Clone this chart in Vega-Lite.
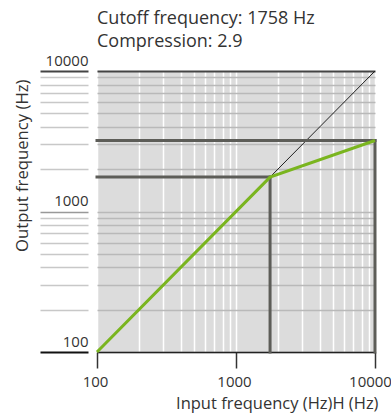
{
  "$schema": "https://vega.github.io/schema/vega-lite/v6.json",
  "width": 278,
  "height": 281,
  "autosize": "none",
  "padding": {"left": 97, "top": 71, "right": 16, "bottom": 64},
  "background": "white",
  "title": {
    "text": ["Cutoff frequency: 1758 Hz", "Compression: 2.9"],
    "anchor": "start",
    "frame": "group",
    "font": "Open Sans",
    "fontSize": 18,
    "fontWeight": "normal",
    "color": "#333333",
    "lineHeight": 23,
    "offset": -12,
    "baseline": "alphabetic"
  },
  "config": {"view": {"fill": "#dcdcdc", "stroke": null}, "font": "Open Sans"},
  "datasets": {
    "diag": [{"x": 100, "y": 100}, {"x": 10000, "y": 10000}],
    "guides": [
      {"x": 100, "x2": 1758, "y": 1758, "y2": 1758},
      {"x": 1758, "x2": 1758, "y": 100, "y2": 1758},
      {"x": 100, "x2": 10000, "y": 3202, "y2": 3202},
      {"x": 10000, "x2": 10000, "y": 100, "y2": 3202}
    ],
    "curve": [{"x": 100, "y": 100}, {"x": 1758, "y": 1758}, {"x": 10000, "y": 3202}]
  },
  "encoding": {
    "x": {
      "field": "x",
      "type": "quantitative",
      "scale": {"type": "log", "domain": [100, 10000], "nice": false, "zero": false},
      "axis": {
        "values": [100, 200, 300, 400, 500, 600, 700, 800, 900, 1000, 2000, 3000, 4000, 5000, 6000, 7000, 8000, 9000, 10000],
        "title": "Input frequency (Hz)H (Hz)",
        "grid": true,
        "gridColor": "#ffffff",
        "gridWidth": 1.5,
        "gridOpacity": 1,
        "domain": true,
        "domainColor": "#222222",
        "domainWidth": 1.5,
        "ticks": true,
        "tickSize": 16,
        "tickColor": "#333333",
        "tickWidth": 1.5,
        "tickOpacity": {"condition": {"test": "datum.value==100||datum.value==1000||datum.value==10000", "value": 1}, "value": 0},
        "labelExpr": "datum.value==100||datum.value==1000||datum.value==10000 ? format(datum.value,'d') : ''",
        "labelFont": "Open Sans",
        "labelFontSize": 15,
        "labelColor": "#333333",
        "labelPadding": 6,
        "labelFlush": false,
        "labelOverlap": false,
        "labelOffset": {"condition": {"test": "datum.value==10000", "value": -5}, "value": -2},
        "titleFont": "Open Sans",
        "titleFontSize": 16.5,
        "titleFontWeight": "normal",
        "titleColor": "#333333",
        "titleAnchor": "end",
        "titleAlign": "right",
        "titleX": 281,
        "titleY": 56,
        "titleBaseline": "alphabetic"
      }
    },
    "y": {
      "field": "y",
      "type": "quantitative",
      "scale": {"type": "log", "domain": [100, 10000], "nice": false, "zero": false},
      "axis": {
        "values": [100, 200, 300, 400, 500, 600, 700, 800, 900, 1000, 2000, 3000, 4000, 5000, 6000, 7000, 8000, 9000, 10000],
        "title": "Output frequency (Hz)",
        "offset": 9,
        "grid": true,
        "gridColor": {"condition": {"test": "datum.value==10000", "value": "#444444"}, "value": "#b9b9b9"},
        "gridWidth": {"condition": {"test": "datum.value==10000", "value": 2}, "value": 1.5},
        "gridOpacity": 1,
        "domain": false,
        "ticks": true,
        "tickSize": 48,
        "tickColor": {"condition": [
          {"test": "datum.value==10000", "value": "#444444"},
          {"test": "datum.value==100", "value": "#111111"},
          {"test": "datum.value==1000", "value": "#999999"}
        ], "value": "#c8c8c8"},
        "tickWidth": {"condition": {"test": "datum.value==10000||datum.value==100", "value": 2}, "value": 1.5},
        "labelExpr": "datum.value==100||datum.value==1000||datum.value==10000 ? format(datum.value,'d') : ''",
        "labelFont": "Open Sans",
        "labelFontSize": 15,
        "labelColor": "#333333",
        "labelAlign": "right",
        "labelBaseline": "alphabetic",
        "labelPadding": -48,
        "labelOffset": -6,
        "labelOverlap": false,
        "labelFlush": false,
        "titleFont": "Open Sans",
        "titleFontSize": 16.7,
        "titleFontWeight": "normal",
        "titleColor": "#333333",
        "titleAnchor": "end",
        "titleAlign": "right",
        "titleAngle": -90,
        "titleBaseline": "middle",
        "titleX": -66,
        "titleY": 8
      }
    }
  },
  "layer": [
    {
      "data": {"name": "diag"},
      "mark": {"type": "line", "color": "#222222", "strokeWidth": 1}
    },
    {
      "data": {"name": "guides"},
      "mark": {"type": "rule", "color": "#5d5d58", "strokeWidth": 3, "strokeCap": "square"},
      "encoding": {"x2": {"field": "x2"}, "y2": {"field": "y2"}}
    },
    {
      "data": {"name": "curve"},
      "mark": {"type": "line", "color": "#7ab51f", "strokeWidth": 3}
    }
  ]
}
